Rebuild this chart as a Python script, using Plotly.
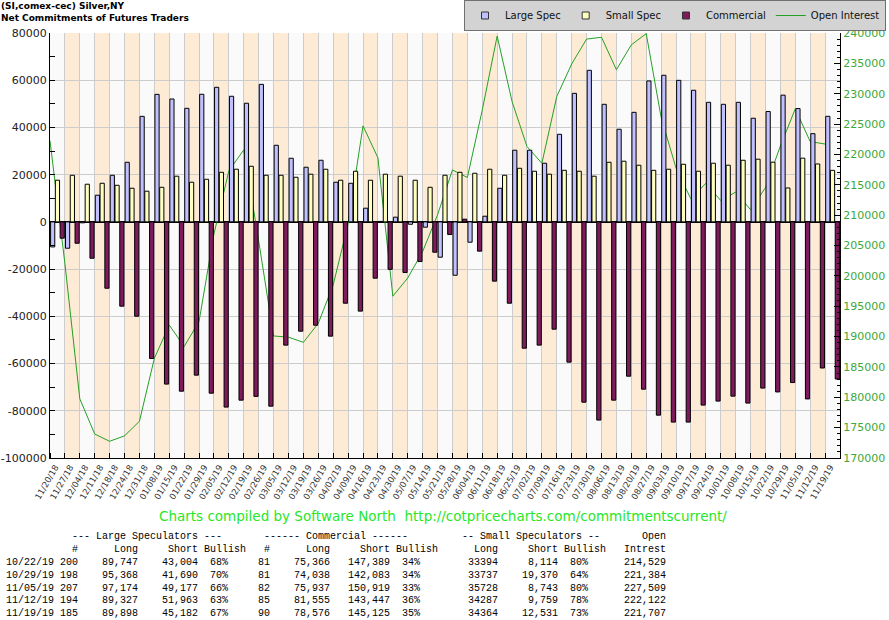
import plotly.graph_objects as go

# weekly report dates
dates = ['11/20/18', '11/27/18', '12/04/18', '12/11/18', '12/18/18', '12/24/18', '12/31/18',
         '01/08/19', '01/15/19', '01/22/19', '01/29/19', '02/05/19', '02/12/19', '02/19/19',
         '02/26/19', '03/05/19', '03/12/19', '03/19/19', '03/26/19', '04/02/19', '04/09/19',
         '04/16/19', '04/23/19', '04/30/19', '05/07/19', '05/14/19', '05/21/19', '05/28/19',
         '06/04/19', '06/11/19', '06/18/19', '06/25/19', '07/02/19', '07/09/19', '07/16/19',
         '07/23/19', '07/30/19', '08/06/19', '08/13/19', '08/20/19', '08/27/19', '09/03/19',
         '09/10/19', '09/17/19', '09/24/19', '10/01/19', '10/08/19', '10/15/19', '10/22/19',
         '10/29/19', '11/05/19', '11/12/19', '11/19/19']

# net positions
large_spec = [-10600, -11150, -400, 11300, 19750, 25250, 44700, 54000, 52050, 48100,
              54050, 57000, 53200, 50250, 58250, 32450, 26950, 23150, 26100, 16800,
              16350, 5800, 200, 2000, -1000, -2250, -14950, -22600, -8600, 2400,
              14250, 30350, 30350, 24850, 37100, 54450, 64200, 49800, 39250, 46400,
              59700, 62100, 59950, 55750, 50650, 49800, 50650, 43900, 46743, 53678,
              47997, 37364, 44716]
small_spec = [17650, 19750, 15950, 16350, 15500, 14250, 13000, 14650, 19350, 16800,
              18050, 21000, 22300, 23550, 19750, 19750, 18900, 20200, 22300, 17650,
              21450, 17650, 20200, 19350, 17650, 14650, 19750, 21000, 20600, 22300,
              19750, 22700, 21450, 20200, 21850, 21450, 19350, 25250, 25700, 24000,
              21850, 22300, 24400, 21450, 24850, 24000, 26100, 26550, 25280, 14367,
              26985, 24528, 21833]
commercial = [-6900, -9050, -15400, -28100, -35700, -39950, -57850, -68700, -71700, -64900,
              -72550, -78450, -75500, -73900, -78050, -52200, -46300, -43750, -48400, -34450,
              -37800, -23850, -20100, -21450, -16800, -12850, -5350, 1150, -12400, -25100,
              -34450, -53500, -52200, -45450, -59400, -76350, -83950, -75500, -65350, -70850,
              -81850, -84800, -84800, -77600, -75900, -73800, -76750, -70400, -72023, -68045,
              -74982, -61892, -66549]
open_interest = [222250, 202000, 179750, 173950, 172750, 173650, 176050, 186400, 191900, 188350,
                 192500, 206900, 217300, 220750, 205750, 190100, 189900, 189050, 192200, 198500,
                 208600, 224700, 219450, 196650, 199650, 204000, 210050, 217450, 216200, 227300,
                 239500, 228700, 221300, 218550, 229550, 234900, 239000, 239300, 233950, 238050,
                 239900, 226100, 217750, 212650, 215250, 212400, 213800, 210900, 214529, 221384,
                 227509, 222122, 221707]

# table of the last five reports
tbl_dates = ['10/22/19', '10/29/19', '11/05/19', '11/12/19', '11/19/19']
ls_traders = [200, 198, 207, 194, 185]
ls_long = [89747, 95368, 97174, 89327, 89898]
ls_short = [43004, 41690, 49177, 51963, 45182]
ls_bullish = [68, 70, 66, 63, 67]
cm_traders = [81, 81, 82, 85, 90]
cm_long = [75366, 74038, 75937, 81555, 78576]
cm_short = [147389, 142083, 150919, 143447, 145125]
cm_bullish = [34, 34, 33, 36, 35]
ss_long = [33394, 33737, 35728, 34287, 34364]
ss_short = [8114, 19370, 8743, 9759, 12531]
ss_bullish = [80, 64, 80, 78, 73]
tbl_oi = [214529, 221384, 227509, 222122, 221707]

C_LARGE = '#c0c0ff'
C_SMALL = '#ffffc0'
C_COMM = '#7f1a5c'
C_OI = '#24a024'

W, H = 889, 620
L, R, T, B = 50, 840, 33, 458


def px_x(px):
    return (px - L) / (R - L)


def px_y(py):
    return (B - py) / (B - T)


idx = list(range(len(dates)))
edges = [i - 0.5 for i in idx]  # open interest sits on the week boundaries

fig = go.Figure()

# legend entries (small squares like the original)
for name, color in [('Large Spec', C_LARGE), ('Small Spec', C_SMALL), ('Commercial', C_COMM)]:
    fig.add_trace(go.Scatter(x=[None], y=[None], mode='markers', name=name,
                             marker=dict(symbol='square', size=7, color=color,
                                         line=dict(color='#333', width=1))))

fig.add_trace(go.Scatter(x=edges, y=open_interest, mode='lines', name='Open Interest',
                         line=dict(color=C_OI, width=1), yaxis='y'))

for name, vals, color in [('Large Spec', large_spec, C_LARGE),
                          ('Small Spec', small_spec, C_SMALL),
                          ('Commercial', commercial, C_COMM)]:
    fig.add_trace(go.Bar(x=idx, y=vals, name=name, showlegend=False, yaxis='y2',
                         marker=dict(color=color, line=dict(color='black', width=1))))

# alternating week bands
shapes = []
for i in idx:
    if i % 2 == 1:
        shapes.append(dict(type='rect', xref='x', yref='paper', x0=i - 0.5, x1=i + 0.5,
                           y0=0, y1=1, fillcolor='#fdebd6', line=dict(width=0), layer='below'))

oi_ticks = list(range(170000, 240001, 5000))
net_ticks = list(range(-100000, 80001, 20000))

fig.update_layout(
    width=W, height=H, autosize=False,
    margin=dict(l=L, r=W - R, t=T, b=H - B, pad=0, autoexpand=False),
    paper_bgcolor='white', plot_bgcolor='#fafafa',
    barmode='group', bargap=0.04, bargroupgap=0.12,
    font=dict(family='DejaVu Sans', size=11, color='#222'),
    shapes=shapes,
    xaxis=dict(range=[-0.5, len(dates) - 0.5], tickmode='array',
               tickvals=[i - 0.15 for i in idx], ticktext=dates, tickangle=-60,
               tickfont=dict(size=8.5, color='#333'), showgrid=False, ticks='',
               showline=True, linecolor='black', linewidth=1, zeroline=False,
               minor=dict(tickmode='linear', tick0=-0.5, dtick=1, showgrid=True,
                          gridcolor='#cccccc', gridwidth=1, ticks='inside', ticklen=5,
                          tickcolor='black')),
    yaxis=dict(range=[170000, 240000], side='right', tickmode='array',
               tickvals=oi_ticks, ticktext=[str(v) for v in oi_ticks],
               tickfont=dict(color='#3ca83c', size=11), showgrid=False, zeroline=False,
               ticks='inside', ticklen=6, tickcolor='black', showline=True,
               linecolor='black', linewidth=1,
               minor=dict(tickmode='linear', tick0=170000, dtick=1000, ticks='inside',
                          ticklen=3, tickcolor='black', showgrid=False)),
    yaxis2=dict(range=[-100000, 80000], overlaying='y', side='left', tickmode='array',
                tickvals=net_ticks, ticktext=[str(v) for v in net_ticks],
                tickfont=dict(color='#222', size=11), showgrid=True, gridcolor='#cccccc',
                zeroline=True, zerolinecolor='black', zerolinewidth=1.5,
                ticks='inside', ticklen=5, tickcolor='black', showline=True,
                linecolor='black', linewidth=1,
                minor=dict(tickmode='linear', tick0=-100000, dtick=10000, ticks='inside',
                           ticklen=5, tickcolor='black', showgrid=False)),
    legend=dict(orientation='h', x=px_x(886), xanchor='right', y=px_y(0), yanchor='top',
                bgcolor='#d3d3d3', bordercolor='#707070', borderwidth=1,
                font=dict(size=10, color='#111'), itemwidth=30, traceorder='normal'),
)

ann = []
ann.append(dict(text='<b>(SI,comex-cec) Silver,NY<br>Net Commitments of Futures Traders</b>',
                x=px_x(-1), y=px_y(-1), xref='paper', yref='paper', xanchor='left',
                yanchor='top', align='left', showarrow=False,
                font=dict(size=9, color='black')))
ann.append(dict(text='Charts compiled by Software North  http://cotpricecharts.com/commitmentscurrent/'
                .replace(' ', '\u00a0'),
                x=px_x(443), y=px_y(516), xref='paper', yref='paper', xanchor='center',
                yanchor='middle', showarrow=False, font=dict(size=13.5, color='#28e628')))


def line(fields):
    # fields: (text, col, align) on a fixed 6px character grid
    chars = [' '] * 112
    for text, col, align in fields:
        start = col - len(text) + 1 if align == 'r' else col
        for k, ch in enumerate(text):
            chars[start + k] = ch
    return ''.join(chars).rstrip().replace(' ', '\u00a0')


rows = [
    line([('--- Large Speculators ---', 11, 'l'), ('------ Commercial ------', 43, 'l'),
          ('-- Small Speculators --', 76, 'l'), ('Open', 106, 'l')]),
    line([('#', 11, 'r'), ('Long', 21, 'r'), ('Short', 31, 'r'), ('Bullish', 33, 'l'),
          ('#', 43, 'r'), ('Long', 53, 'r'), ('Short', 63, 'r'), ('Bullish', 65, 'l'),
          ('Long', 81, 'r'), ('Short', 91, 'r'), ('Bullish', 93, 'l'), ('Intrest', 109, 'r')]),
]
for k in range(len(tbl_dates)):
    rows.append(line([
        (tbl_dates[k], 0, 'l'), (str(ls_traders[k]), 11, 'r'),
        (f'{ls_long[k]:,}', 21, 'r'), (f'{ls_short[k]:,}', 31, 'r'), (f'{ls_bullish[k]}%', 36, 'r'),
        (str(cm_traders[k]), 43, 'r'), (f'{cm_long[k]:,}', 53, 'r'), (f'{cm_short[k]:,}', 63, 'r'),
        (f'{cm_bullish[k]}%', 68, 'r'), (str(ss_long[k]), 81, 'r'), (f'{ss_short[k]:,}', 91, 'r'),
        (f'{ss_bullish[k]}%', 96, 'r'), (f'{tbl_oi[k]:,}', 109, 'r')]))

for k, txt in enumerate(rows):
    ann.append(dict(text=txt, x=px_x(4), y=px_y(536.7 + 12.85 * k), xref='paper', yref='paper',
                    xanchor='left', yanchor='middle', showarrow=False,
                    font=dict(family='Liberation Mono', size=10, color='black')))

fig.update_layout(annotations=ann)

# page body margin would shift the chart by 8px
fig.write_html('out.html', config={'displayModeBar': False},
               post_script="document.body.style.margin='0px';")
